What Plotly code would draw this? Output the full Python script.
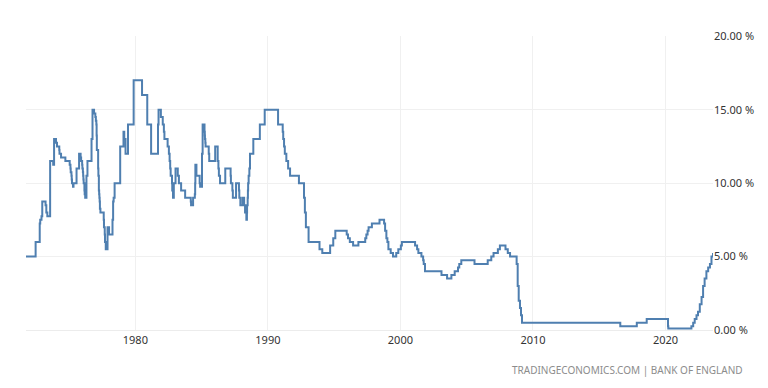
import plotly.graph_objects as go

# Bank of England rate: change dates and the rate from that date (%)
change_dates = [
    "1971-10-01", "1972-06-22", "1972-10-13", "1972-10-27", "1972-12-01", "1972-12-22",
    "1973-03-23", "1973-04-13", "1973-05-11", "1973-07-27", "1973-10-19", "1973-11-13",
    "1974-01-04", "1974-02-01", "1974-04-05", "1974-04-11", "1974-05-24", "1974-09-20",
    "1975-01-17", "1975-02-07", "1975-02-14", "1975-03-07", "1975-03-14", "1975-03-21",
    "1975-04-18", "1975-05-02", "1975-07-25", "1975-10-03", "1975-11-14", "1975-11-28",
    "1975-12-26", "1976-01-02", "1976-01-16", "1976-01-23", "1976-01-30", "1976-02-06",
    "1976-02-27", "1976-03-05", "1976-03-19", "1976-04-23", "1976-05-21", "1976-09-10",
    "1976-10-07", "1976-11-19", "1976-12-24", "1977-01-07", "1977-01-21", "1977-01-28",
    "1977-02-03", "1977-03-11", "1977-03-18", "1977-03-31", "1977-04-08", "1977-04-15",
    "1977-04-22", "1977-04-29", "1977-05-13", "1977-08-12", "1977-08-19", "1977-09-09",
    "1977-09-16", "1977-10-07", "1977-11-25", "1978-01-06", "1978-04-11", "1978-04-28",
    "1978-05-12", "1978-06-08", "1978-11-09", "1979-02-08", "1979-03-01", "1979-04-05",
    "1979-06-12", "1979-11-15", "1980-07-03", "1980-11-24", "1981-03-10", "1981-09-16",
    "1981-10-01", "1981-12-04", "1982-01-25", "1982-02-25", "1982-03-12", "1982-06-08",
    "1982-07-13", "1982-08-02", "1982-08-18", "1982-08-31", "1982-10-07", "1982-10-14",
    "1982-11-04", "1982-11-26", "1983-01-12", "1983-03-15", "1983-04-15", "1983-06-15",
    "1983-10-04", "1984-03-07", "1984-03-15", "1984-05-10", "1984-06-27", "1984-07-06",
    "1984-07-12", "1984-08-10", "1984-11-07", "1984-11-20", "1985-01-11", "1985-01-28",
    "1985-03-21", "1985-03-29", "1985-04-02", "1985-04-12", "1985-04-19", "1985-07-15",
    "1985-07-29", "1986-01-09", "1986-03-19", "1986-04-08", "1986-04-21", "1986-05-23",
    "1986-10-14", "1987-03-10", "1987-03-18", "1987-04-28", "1987-05-11", "1987-08-07",
    "1987-10-26", "1987-11-05", "1987-12-04", "1988-02-02", "1988-03-17", "1988-04-11",
    "1988-05-17", "1988-06-02", "1988-06-06", "1988-06-22", "1988-06-29", "1988-07-05",
    "1988-07-19", "1988-08-08", "1988-08-25", "1988-11-25", "1989-05-24", "1989-10-05",
    "1990-10-08", "1991-02-13", "1991-02-27", "1991-03-22", "1991-04-12", "1991-05-24",
    "1991-07-12", "1991-09-04", "1992-05-05", "1992-09-22", "1992-10-16", "1992-11-13",
    "1993-01-26", "1993-11-23", "1994-02-08", "1994-09-12", "1994-12-07", "1995-02-02",
    "1995-12-13", "1996-01-18", "1996-03-08", "1996-06-06", "1996-10-30", "1997-05-06",
    "1997-06-06", "1997-07-10", "1997-08-07", "1997-11-06", "1998-06-04", "1998-10-08",
    "1998-11-05", "1998-12-10", "1999-01-07", "1999-02-04", "1999-04-08", "1999-06-10",
    "1999-09-08", "1999-11-04", "2000-01-13", "2000-02-10", "2001-02-08", "2001-04-05",
    "2001-05-10", "2001-08-02", "2001-09-18", "2001-10-04", "2001-11-08", "2003-02-06",
    "2003-07-10", "2003-11-06", "2004-02-05", "2004-05-06", "2004-06-10", "2004-08-05",
    "2005-08-04", "2006-08-03", "2006-11-09", "2007-01-11", "2007-05-10", "2007-07-05",
    "2007-12-06", "2008-02-07", "2008-04-10", "2008-10-08", "2008-11-06", "2008-12-04",
    "2009-01-08", "2009-02-05", "2009-03-05", "2016-08-04", "2017-11-02", "2018-08-02",
    "2020-03-11", "2020-03-19", "2021-12-16", "2022-02-03", "2022-03-17", "2022-05-05",
    "2022-06-16", "2022-08-04", "2022-09-22", "2022-11-03", "2022-12-15", "2023-02-02",
    "2023-03-23", "2023-05-11", "2023-06-22", "2023-08-03",
]
rates = [
    5.0, 6.0, 7.25, 7.5, 7.75, 8.75,
    8.5, 8.0, 7.75, 11.5, 11.25, 13.0,
    12.75, 12.5, 12.25, 12.0, 11.75, 11.5,
    11.25, 11.0, 10.75, 10.5, 10.25, 10.0,
    9.75, 10.0, 11.0, 12.0, 11.75, 11.5,
    11.25, 11.0, 10.75, 10.5, 10.25, 10.0,
    9.5, 9.25, 9.0, 10.5, 11.5, 13.0,
    15.0, 14.75, 14.5, 14.25, 14.0, 13.25,
    12.25, 11.0, 10.5, 9.5, 9.25, 9.0,
    8.75, 8.25, 8.0, 7.5, 7.0, 6.5,
    6.0, 5.5, 7.0, 6.5, 7.5, 8.75,
    9.0, 10.0, 12.5, 13.5, 13.0, 12.0,
    14.0, 17.0, 16.0, 14.0, 12.0, 14.0,
    15.0, 14.5, 14.0, 13.5, 13.0, 12.5,
    12.0, 11.5, 11.0, 10.5, 10.0, 9.5,
    9.0, 10.0, 11.0, 10.5, 10.0, 9.5,
    9.0, 8.75, 8.5, 9.0, 9.25, 10.0,
    11.25, 10.5, 10.0, 9.75, 12.0, 14.0,
    13.5, 13.25, 13.0, 12.75, 12.5, 12.0,
    11.5, 12.5, 11.5, 11.0, 10.5, 10.0,
    11.0, 10.5, 10.0, 9.5, 9.0, 10.0,
    9.5, 9.0, 8.5, 9.0, 8.5, 8.0,
    7.5, 8.0, 8.5, 9.0, 9.5, 10.0,
    10.5, 11.0, 12.0, 13.0, 14.0, 15.0,
    14.0, 13.5, 13.0, 12.5, 12.0, 11.5,
    11.0, 10.5, 10.0, 9.0, 8.0, 7.0,
    6.0, 5.5, 5.25, 5.75, 6.25, 6.75,
    6.5, 6.25, 6.0, 5.75, 6.0, 6.25,
    6.5, 6.75, 7.0, 7.25, 7.5, 7.25,
    6.75, 6.25, 6.0, 5.5, 5.25, 5.0,
    5.25, 5.5, 5.75, 6.0, 5.75, 5.5,
    5.25, 5.0, 4.75, 4.5, 4.0, 3.75,
    3.5, 3.75, 4.0, 4.25, 4.5, 4.75,
    4.5, 4.75, 5.0, 5.25, 5.5, 5.75,
    5.5, 5.25, 5.0, 4.5, 3.0, 2.0,
    1.5, 1.0, 0.5, 0.25, 0.5, 0.75,
    0.25, 0.1, 0.25, 0.5, 0.75, 1.0,
    1.25, 1.75, 2.25, 3.0, 3.5, 4.0,
    4.25, 4.5, 5.0, 5.25,
]
x_tick_years = ["1980-01-01", "1990-01-01", "2000-01-01", "2010-01-01", "2020-01-01"]
x_tick_labels = ["1980", "1990", "2000", "2010", "2020"]
y_ticks = [0, 5, 10, 15, 20]
y_tick_labels = ["0.00 %", "5.00 %", "10.00 %", "15.00 %", "20.00 %"]
source_text = "TRADINGECONOMICS.COM | BANK OF ENGLAND"

fig = go.Figure()
fig.add_trace(go.Scatter(
    x=change_dates, y=rates, mode="lines", line_shape="hv",
    line=dict(color="#4f7fb0", width=2), hoverinfo="skip", showlegend=False,
))

# the page body has an 8px margin, so the figure is drawn 8px in from the top-left
W, H = 760, 380
L, R, T, B = 18, 55, 28, 58
PW, PH = W - L - R, H - T - B
fig.update_layout(
    width=W, height=H,
    margin=dict(l=L, r=R, t=T, b=B, autoexpand=False),
    paper_bgcolor="white", plot_bgcolor="white",
    font=dict(family="Noto Sans, Open Sans, sans-serif", color="#333333", size=11),
    xaxis=dict(
        type="date", range=["1971-10-01", "2023-08-03"],
        tickvals=x_tick_years, ticktext=x_tick_labels,
        showgrid=True, gridcolor="#f0f0f0", gridwidth=1,
        showline=True, linecolor="#ececec", linewidth=1,
        zeroline=False, ticks="", tickfont=dict(size=11, color="#333333"),
        fixedrange=True, automargin=False,
    ),
    yaxis=dict(
        side="right", range=[0, 20.02],
        tickvals=y_ticks, ticktext=y_tick_labels,
        showgrid=True, gridcolor="#f0f0f0", gridwidth=1,
        zeroline=False, showline=False, ticks="",
        tickfont=dict(size=11, color="#333333"),
        fixedrange=True, automargin=False,
    ),
    annotations=[dict(
        text=source_text, xref="paper", yref="paper",
        x=(745 - 8 - L) / PW, y=-(370 - 330) / PH,
        xanchor="right", yanchor="middle", showarrow=False,
        font=dict(size=10, color="#8c8c8c"),
    )],
)

fig.write_html("out.html")
